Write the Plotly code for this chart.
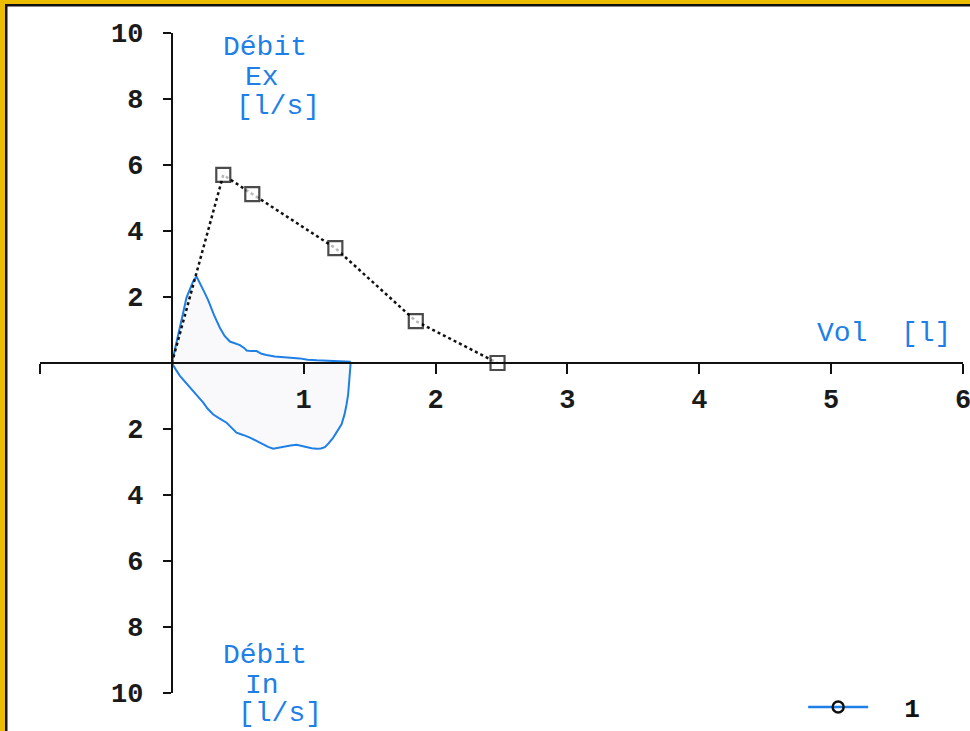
import plotly.graph_objects as go

# --- data ---
pef_vol = [0.0, 0.39, 0.61, 1.24, 1.85, 2.47]
pef_flow = [0.0, 5.70, 5.12, 3.48, 1.27, 0.0]

loop_vol = [0.0, 0.03, 0.061, 0.09, 0.111, 0.14, 0.162, 0.187, 0.21, 0.24, 0.276, 0.32, 0.364, 0.40,
            0.44, 0.48, 0.516, 0.55, 0.567, 0.60, 0.643, 0.68, 0.718, 0.78, 0.845, 0.90, 0.97, 1.03,
            1.10, 1.18, 1.25, 1.35,
            1.355, 1.35, 1.345, 1.337, 1.325, 1.31, 1.287, 1.255, 1.224, 1.19, 1.161, 1.13, 1.098,
            1.06, 1.022, 0.98, 0.946, 0.90, 0.845, 0.80, 0.769, 0.73, 0.693, 0.64, 0.592, 0.54, 0.49,
            0.45, 0.415, 0.36, 0.314, 0.27, 0.238, 0.19, 0.137, 0.10, 0.061, 0.03, 0.0]
loop_flow = [0.0, 0.55, 1.17, 1.6, 1.98, 2.3, 2.48, 2.62, 2.45, 2.2, 1.9, 1.45, 1.07, 0.82,
             0.65, 0.58, 0.54, 0.45, 0.38, 0.36, 0.36, 0.28, 0.24, 0.20, 0.17, 0.16, 0.14, 0.10,
             0.08, 0.06, 0.05, 0.04,
             -0.05, -0.35, -0.65, -0.95, -1.25, -1.55, -1.86, -2.08, -2.26, -2.43, -2.55, -2.59, -2.60,
             -2.58, -2.55, -2.51, -2.48, -2.50, -2.54, -2.58, -2.60, -2.54, -2.46, -2.36, -2.26, -2.18, -2.11,
             -1.95, -1.81, -1.68, -1.56, -1.38, -1.20, -0.98, -0.75, -0.57, -0.39, -0.2, 0.0]

x_tickvals = [-1, 1, 2, 3, 4, 5, 6]
x_ticktext = ["", "1", "2", "3", "4", "5", "6"]
y_tickvals = [-10, -8, -6, -4, -2, 2, 4, 6, 8, 10]
y_ticktext = ["10", "8", "6", "4", "2", "2", "4", "6", "8", "10"]
legend_name = "\u00a0\u00a01"

BLUE = "#1E7FE6"
MONO = "Liberation Mono, Courier New, monospace"

fig = go.Figure()

fig.add_trace(go.Scatter(
    x=loop_vol, y=loop_flow, mode="lines",
    line=dict(color=BLUE, width=2),
    fill="toself", fillcolor="rgba(190,185,215,0.09)",
    showlegend=False, hoverinfo="skip"))

fig.add_trace(go.Scatter(
    x=pef_vol, y=pef_flow, mode="lines+markers",
    line=dict(color="#111111", width=2.5, dash="dot"),
    marker=dict(symbol="square", size=[0, 14, 14, 14, 14, 14], color="white",
                line=dict(color="#000000", width=2.2)),
    showlegend=False))

fig.add_trace(go.Scatter(
    x=[None], y=[None], mode="lines+markers", name=legend_name,
    line=dict(color=BLUE, width=2.5),
    marker=dict(symbol="circle-open", size=11, color="#111111", line=dict(width=2.5))))

axis_font = dict(family=MONO, size=27, color="#1a1a1a", weight="bold")

fig.update_layout(
    width=970, height=731,
    margin=dict(l=40, r=7, t=33, b=38, autoexpand=False),
    paper_bgcolor="white", plot_bgcolor="white",
    xaxis=dict(range=[-1, 6], anchor="free", position=0.5, showgrid=False, zeroline=False,
               automargin=False, ticklabeloverflow="allow",
               showline=True, linecolor="#111111", linewidth=2,
               ticks="outside", ticklen=10, tickwidth=2, tickcolor="#111111",
               tickvals=x_tickvals, ticktext=x_ticktext, tickfont=axis_font,
               ticklabelstandoff=2),
    yaxis=dict(range=[-10, 10], anchor="free", position=1 / 7, showgrid=False, zeroline=False,
               automargin=False, ticklabeloverflow="allow",
               showline=True, linecolor="#111111", linewidth=2,
               ticks="outside", ticklen=8, tickwidth=2, tickcolor="#111111",
               tickvals=y_tickvals, ticktext=y_ticktext, tickfont=axis_font,
               ticklabelstandoff=14),
    showlegend=True,
    legend=dict(xref="container", yref="container", x=0.828, y=(731 - 707) / 731,
                xanchor="left", yanchor="middle", itemwidth=60,
                font=dict(family=MONO, size=26, color="#111111", weight="bold"),
                bgcolor="rgba(0,0,0,0)"),
    font=dict(family=MONO),
)

lbl = dict(family=MONO, size=28, color=BLUE)
H, W = 660.0, 923.0
def py(p):
    return (693 - p) / H
def px(p):
    return (p - 40) / W

def ann(text, x, y):
    fig.add_annotation(text=text, x=px(x), y=py(y), xref="paper", yref="paper", showarrow=False,
                       font=lbl, xanchor="center", yanchor="middle")

# text positions in pixel-derived paper coordinates
ann("Débit", 265, 47)
ann("Ex", 262, 77)
ann("[l/s]", 278, 106)
ann("Débit", 265, 655)
ann("In", 262, 685)
ann("[l/s]", 280, 713)
ann("Vol  [l]", 884, 333)

# frame decoration (gold band with black inner line, top and left)
GOLD = "#ECBC00"
shapes = [
    dict(type="rect", xref="paper", yref="paper", x0=px(-5), x1=px(975), y0=py(4), y1=py(-5),
         fillcolor=GOLD, line=dict(width=0), layer="above"),
    dict(type="rect", xref="paper", yref="paper", x0=px(-5), x1=px(5), y0=py(736), y1=py(-5),
         fillcolor=GOLD, line=dict(width=0), layer="above"),
    dict(type="rect", xref="paper", yref="paper", x0=px(5), x1=px(975), y0=py(6.5), y1=py(4),
         fillcolor="#111111", line=dict(width=0), layer="above"),
    dict(type="rect", xref="paper", yref="paper", x0=px(5), x1=px(7.5), y0=py(736), y1=py(4),
         fillcolor="#111111", line=dict(width=0), layer="above"),
]
fig.update_layout(shapes=shapes)

fig.write_html("out.html", config={"displayModeBar": False},
               post_script="document.body.style.margin='0';document.body.style.overflow='hidden';")
